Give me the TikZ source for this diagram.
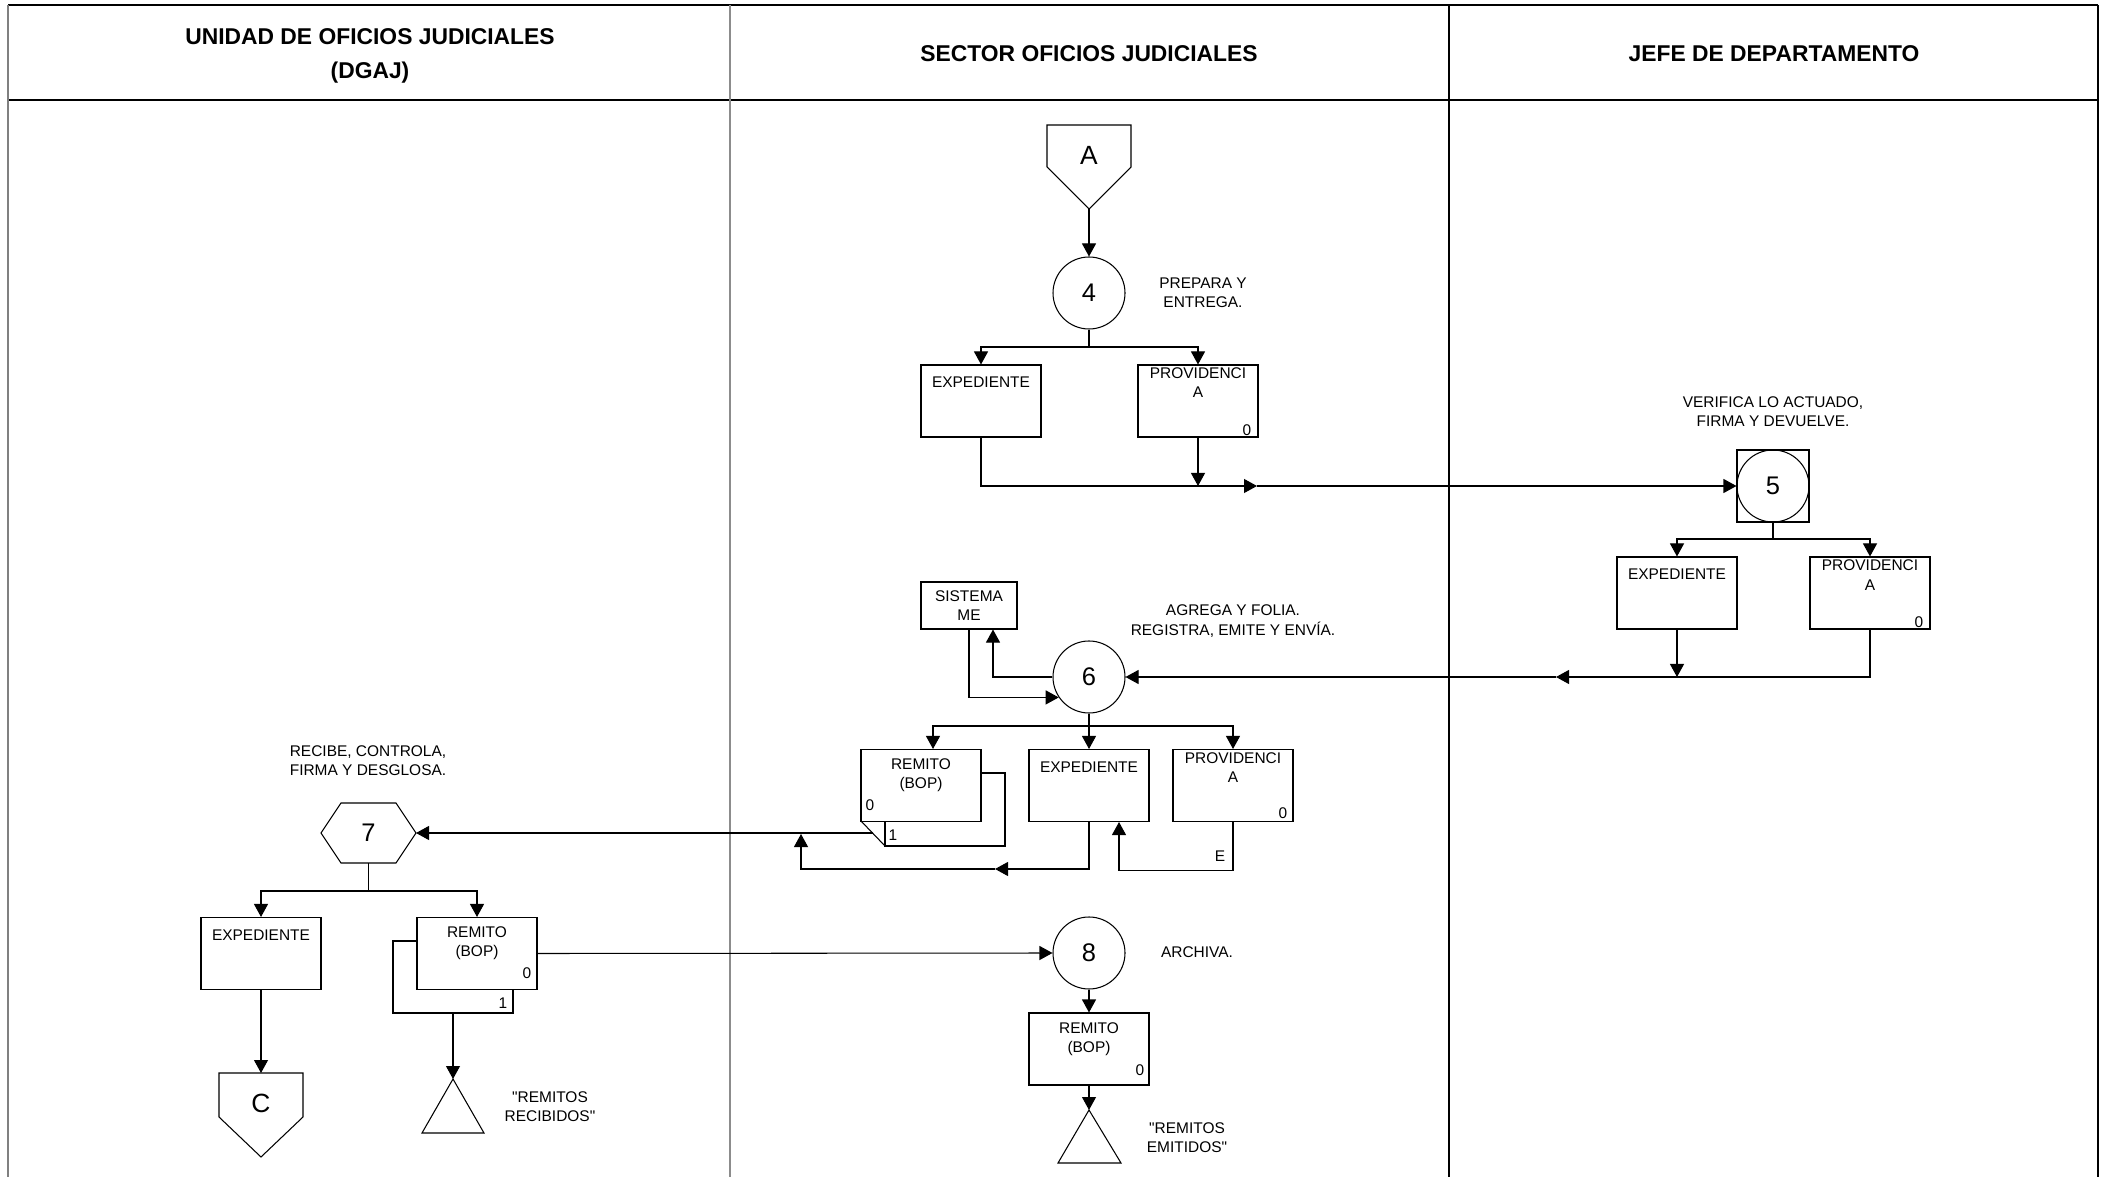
\documentclass[tikz,border=0pt]{standalone}
\usepackage{fontspec}
\setmainfont{Liberation Sans}
\newfontfamily\arial{Liberation Sans}
\usetikzlibrary{arrows.meta,calc}
\begin{document}
\begin{tikzpicture}[x=0.2mm,y=-0.2mm,
  ln/.style={line width=0.6pt, black},
  arr/.style={ln, -{Triangle[length=2.6mm,width=2.8mm]}},
  docbox/.style={draw, line width=0.6pt, minimum width=24mm, minimum height=14.4mm, inner sep=0pt},
  proc/.style={draw, circle, line width=0.6pt, minimum size=14.4mm, inner sep=0pt, font=\arial\fontsize{14.5}{16}\selectfont},
  txt/.style={font=\arial\fontsize{8.8}{11}\selectfont, align=center, inner sep=0pt},
  big/.style={font=\arial\fontsize{15}{16}\selectfont, inner sep=0pt},
  hdr/.style={font=\arial\bfseries\fontsize{13}{19.5}\selectfont, align=center, inner sep=0pt},
]
\useasboundingbox (0,0) rectangle (2107,1177);
% ---------- frame ----------
\draw[line width=1.1pt] (8,5) -- (2098,5);
\draw[line width=1.1pt] (8,100) -- (2098,100);
\draw[line width=1.1pt, black!50] (8,5) -- (8,1177);
\draw[line width=0.9pt, black!45] (730,5) -- (730,1177);
\draw[line width=1.1pt] (1449,5) -- (1449,1177);
\draw[line width=1.1pt] (2098,5) -- (2098,1177);
\node[hdr] (h1) at (370,56) {UNIDAD DE OFICIOS JUDICIALES\\(DGAJ)};
\node[hdr] (h2) at (1089,54) {SECTOR OFICIOS JUDICIALES};
\node[hdr] (h3) at (1774,54) {JEFE DE DEPARTAMENTO};

% ---------- connector A ----------
\draw[ln] (1047,125) -- (1131,125) -- (1131,167) -- (1089,209) -- (1047,167) -- cycle;
\node[big] (cA) at (1089,155) {A};
\coordinate (cAtip) at (1089,209);

% ---------- step 4 ----------
\node[proc] (p4) at (1089,293) {4};
\draw[arr] (cAtip) -- (p4.north);
\node[txt] (t4) at (1203,293) {PREPARA Y\\ENTREGA.};
\node[docbox] (e4) at (981,401) {};
\node[txt] (e4l) at (981,382) {EXPEDIENTE};
\node[docbox] (v4) at (1198,401) {};
\node[txt] (v4l) at (1198,382.5) {PROVIDENCI\\A};
\node[txt] (v4n) at (1247,430) {0};
\coordinate (b4) at (1089,347);
\draw[ln] (p4.south) -- (b4);
\draw[arr] (b4) -| (e4.north);
\draw[arr] (b4) -| (v4.north);
\coordinate (r4) at (1257,486);
\draw[arr] (e4.south) |- (r4);
\draw[arr] (v4.south) -- (v4.south |- r4);

% ---------- step 5 ----------
\node[draw, line width=0.6pt, minimum size=14.4mm, inner sep=0pt] (s5) at (1773,486) {};
\node[proc] (p5) at (1773,486) {5};
\draw[arr] (r4) -- (p5.west);
\node[txt] (t5) at (1773,412) {VERIFICA LO ACTUADO,\\FIRMA Y DEVUELVE.};
\node[docbox] (e5) at (1677,593) {};
\node[txt] (e5l) at (1677,574) {EXPEDIENTE};
\node[docbox] (v5) at (1870,593) {};
\node[txt] (v5l) at (1870,575) {PROVIDENCI\\A};
\node[txt] (v5n) at (1919,622) {0};
\coordinate (b5) at (1773,539);
\draw[ln] (s5.south) -- (b5);
\draw[arr] (b5) -| (e5.north);
\draw[arr] (b5) -| (v5.north);

% ---------- step 6 ----------
\node[proc] (p6) at (1089,677) {6};
\coordinate (l5) at (1556,677);
\draw[arr] (v5.south) |- (l5);
\draw[arr] (l5) -- (p6.east);
\draw[arr] (e5.south) -- (e5.south |- l5);
\node[txt] (t6) at (1233,621) {AGREGA Y FOLIA.\\REGISTRA, EMITE Y ENVÍA.};
\node[draw, line width=0.6pt, minimum width=19.2mm, minimum height=9.4mm, inner sep=0pt,
      font=\arial\fontsize{8.8}{11}\selectfont, align=center] (sme) at (969,605.5) {SISTEMA\\ME};
\draw[arr] (p6.west) -| ($(sme.south)+(24,0)$);
\draw[arr] (sme.south) |- (p6.214);

\node[docbox] (r6) at (921,785.5) {};
\draw[ln] (981,773) -- (1005,773) -- (1005,846) -- (885,846) -- (885,821);
\draw[ln] (861,821) -- (885,846);
\node[txt] (r6l) at (921,775.5) {REMITO\\(BOP)};
\node[txt] (r6n0) at (870,805) {0};
\node[txt] (r6n1) at (893,835) {1};
\node[docbox] (e6) at (1089,785.5) {};
\node[txt] (e6l) at (1089,767) {EXPEDIENTE};
\node[docbox] (v6) at (1233,785.5) {};
\node[txt] (v6l) at (1233,767.5) {PROVIDENCI\\A};
\node[txt] (v6n) at (1283,813) {0};
\coordinate (b6) at (1089,726);
\draw[ln] (p6.south) -- (b6);
\draw[arr] (b6) -| ($(r6.north)+(12,0)$);
\draw[arr] (b6) -- (e6.north);
\draw[arr] (b6) -| (v6.north);
\coordinate (c6) at (995,869);
\coordinate (u6) at (801,834);
\draw[arr] (e6.south) |- (c6);
\draw[arr] (c6) -| (u6);
\draw[arr] (v6.south) -- ++(0,48) -| ($(e6.south)+(30,0)$);
\node[txt] (eE) at (1220,856) {E};

% ---------- step 7 ----------
\draw[ln] (321,833) -- (341,803) -- (396,803) -- (416,833) -- (396,863) -- (341,863) -- cycle;
\node[font=\arial\fontsize{14.5}{16}\selectfont, inner sep=0pt] (p7) at (368.5,833) {7};
\coordinate (h7e) at (416,833);
\coordinate (h7s) at (368.5,863);
\coordinate (r6o) at (873,833);
\draw[arr] (r6o) -- (h7e);
\node[txt] (t7) at (368,761) {RECIBE, CONTROLA,\\FIRMA Y DESGLOSA.};
\coordinate (b7) at (368.5,891);
\node[docbox] (e7) at (261,953.5) {};
\node[txt] (e7l) at (261,935) {EXPEDIENTE};
\node[docbox] (r7) at (477,953.5) {};
\draw[ln] (417,941) -- (393,941) -- (393,1013) -- (513,1013) -- (513,989);
\node[txt] (r7l) at (477,943) {REMITO\\(BOP)};
\node[txt] (r7n0) at (527,973) {0};
\node[txt] (r7n1) at (503,1003) {1};
\draw[ln] (h7s) -- (b7);
\draw[arr] (b7) -| (e7.north);
\draw[arr] (b7) -| (r7.north);

\draw[ln] (219,1073) -- (303,1073) -- (303,1117) -- (261,1157) -- (219,1117) -- cycle;
\node[big] (cC) at (261,1103) {C};
\coordinate (cCtop) at (261,1073);
\draw[arr] (e7.south) -- (cCtop);
\draw[ln] (453,1079) -- (484,1133) -- (422,1133) -- cycle;
\coordinate (tr7) at (453,1079);
\coordinate (r7b) at (453,1013);
\draw[arr] (r7b) -- (tr7);
\node[txt] (q7) at (550,1107) {"REMITOS\\RECIBIDOS"};

% ---------- step 8 ----------
\node[proc] (p8) at (1089,953) {8};
\draw[arr] (r7.east) -- (p8.west);
\node[txt] (t8) at (1197,952) {ARCHIVA.};
\node[docbox] (r8) at (1089,1049) {};
\node[txt] (r8l) at (1089,1039.5) {REMITO\\(BOP)};
\node[txt] (r8n) at (1140,1070) {0};
\draw[arr] (p8.south) -- (r8.north);
\draw[ln] (1089,1110) -- (1121,1163) -- (1058,1163) -- cycle;
\coordinate (tr8) at (1089,1110);
\draw[arr] (r8.south) -- (tr8);
\node[txt] (q8) at (1187,1137.5) {"REMITOS\\EMITIDOS"};
\end{tikzpicture}
\end{document}
